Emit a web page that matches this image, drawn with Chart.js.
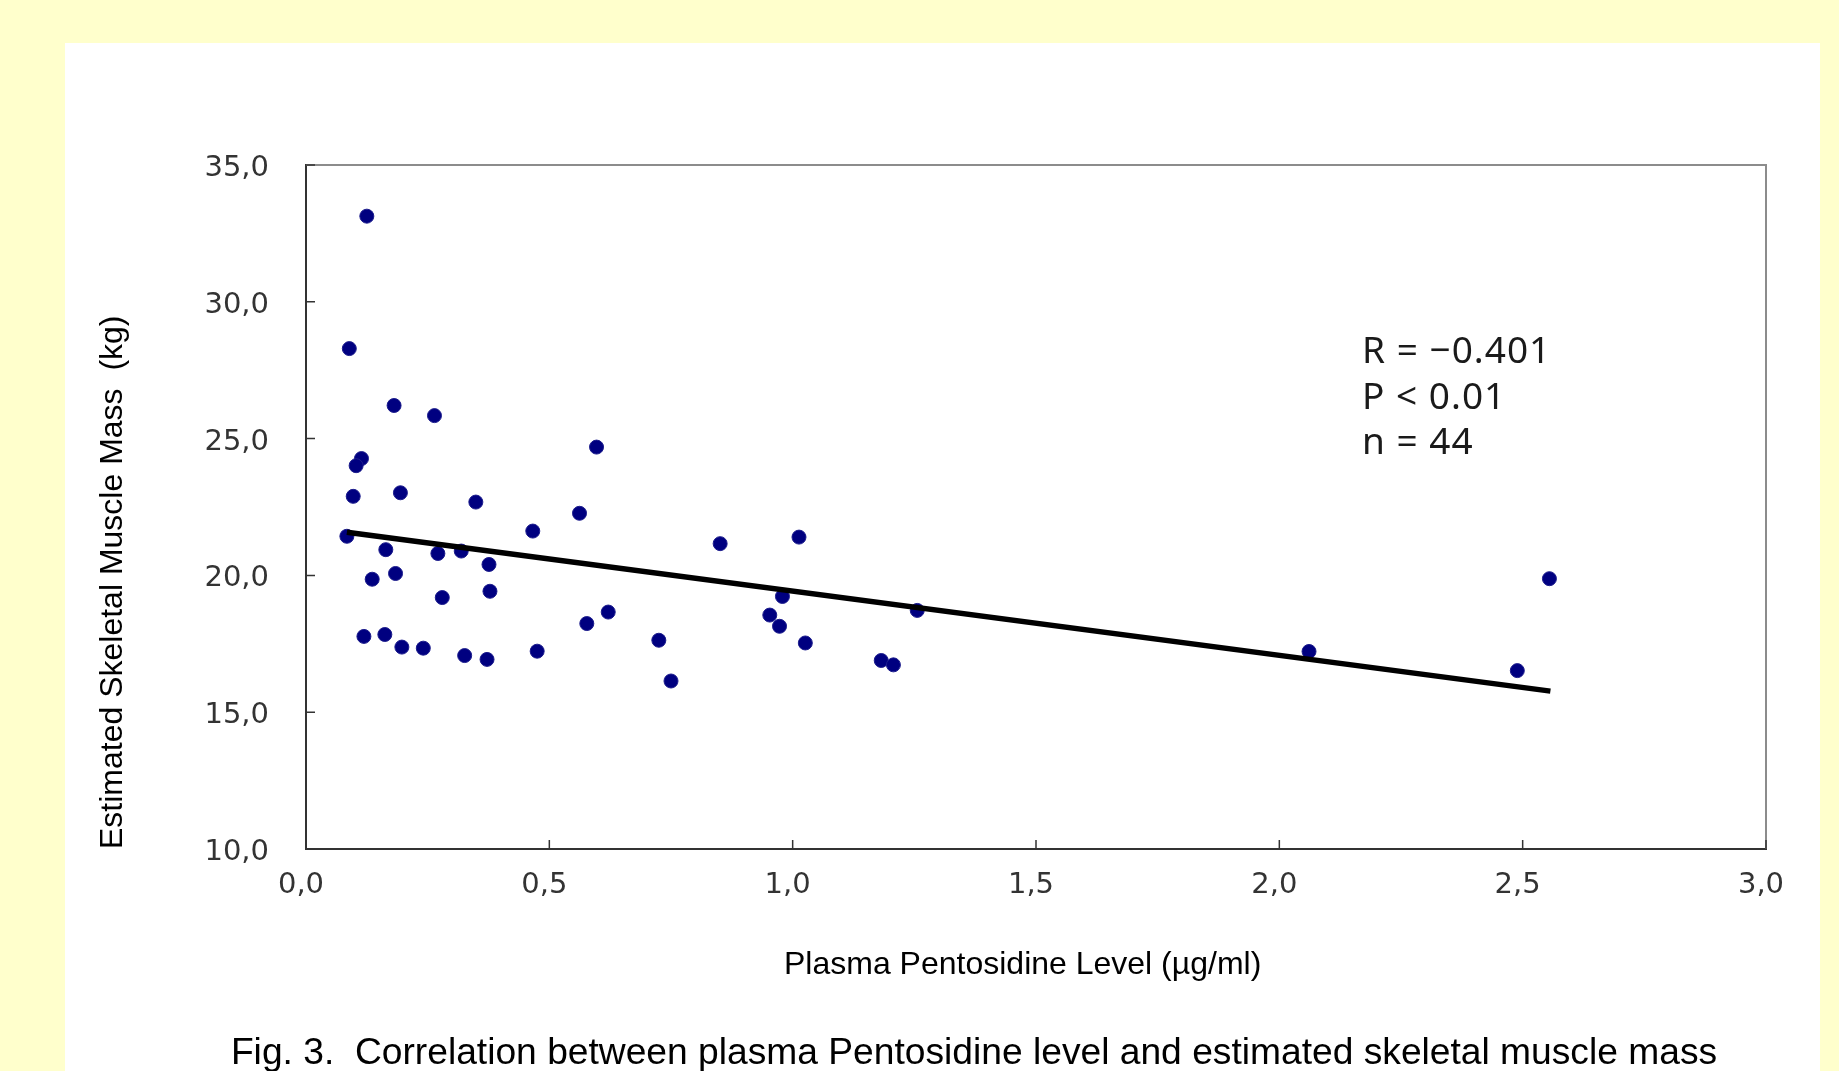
<!DOCTYPE html>
<html>
<head>
<meta charset="utf-8">
<title>Fig. 3 - Pentosidine vs skeletal muscle mass</title>
<script src="https://cdn.jsdelivr.net/npm/chart.js@4.4.1/dist/chart.umd.min.js"></script>
<style>
  html, body { margin: 0; padding: 0; }
  body { background: #ffffcc; width: 1839px; height: 1071px; overflow: hidden; position: relative; }
  #panel { position: absolute; left: 65px; top: 43px; width: 1755px; height: 1028px; background: #ffffff; }
  #chart { position: absolute; left: 0; top: 0; }
  #caption {
    position: absolute; left: 0; width: 1948px; top: 1029px;
    text-align: center; font-family: "Liberation Sans", Arial, sans-serif;
    font-size: 37.2px; line-height: 44px; color: #000; white-space: nowrap;
  }
</style>
</head>
<body>
<div id="panel"></div>
<canvas id="chart" width="1839" height="1071"></canvas>
<div id="caption">Fig. 3.&nbsp; Correlation between plasma Pentosidine level and estimated skeletal muscle mass</div>

<script>
// pentosidine (ug/ml) per subject
const pentosidine = [
  0.125, 0.089, 0.181, 0.264, 0.597, 0.114, 0.103, 0.097, 0.194, 0.349, 0.562,
  0.466, 0.851, 0.084, 0.164, 0.271, 0.319, 0.376, 0.184, 0.136, 0.378, 0.280,
  0.119, 0.162, 0.197, 0.241, 0.326, 0.372, 0.475, 0.577, 0.621, 0.725, 0.750,
  0.979, 0.953, 0.973, 1.013, 1.026, 1.182, 1.207, 1.256, 2.061, 2.489, 2.555
];
// estimated skeletal muscle mass (kg), same order
const muscleMass = [
  33.13, 28.29, 26.21, 25.84, 24.69, 24.27, 24.01, 22.89, 23.02, 22.68, 22.27,
  21.62, 21.16, 21.43, 20.94, 20.80, 20.89, 20.40, 20.07, 19.86, 19.42, 19.19,
  17.77, 17.84, 17.38, 17.34, 17.07, 16.93, 17.23, 18.24, 18.66, 17.63, 16.14,
  19.23, 18.55, 18.14, 21.40, 17.53, 16.89, 16.73, 18.72, 17.22, 16.52, 19.88
];
// regression line end points
const fitX = [0.084, 2.557];
const fitY = [21.58, 15.77];

const xTickLabels = ['0,0', '0,5', '1,0', '1,5', '2,0', '2,5', '3,0'];
const yTickLabels = ['10,0', '15,0', '20,0', '25,0', '30,0', '35,0'];
const statsText = ['R = \u22120.401', 'P < 0.01', 'n = 44'];

const tickFont = { family: '"DejaVu Sans", sans-serif', size: 29 };
const titleFont = { family: '"Liberation Sans", Arial, sans-serif', size: 32 };

// inner tick marks, grey top/right frame and the stats text
const framePlugin = {
  id: 'frame',
  afterDatasetsDraw(chart) {
    const { ctx, chartArea: a, scales: { x, y } } = chart;
    ctx.save();
    ctx.strokeStyle = '#8c8c8c';
    ctx.lineWidth = 2;
    ctx.beginPath();
    ctx.moveTo(a.left, a.top);
    ctx.lineTo(a.right, a.top);
    ctx.lineTo(a.right, a.bottom);
    ctx.stroke();

    ctx.strokeStyle = '#333';
    ctx.lineWidth = 1.5;
    ctx.beginPath();
    x.ticks.forEach((t, i) => {
      const px = x.getPixelForTick(i);
      ctx.moveTo(px, a.bottom);
      ctx.lineTo(px, a.bottom - 9);
    });
    y.ticks.forEach((t, i) => {
      const py = y.getPixelForTick(i);
      ctx.moveTo(a.left, py);
      ctx.lineTo(a.left + 9, py);
    });
    ctx.stroke();

    ctx.fillStyle = '#1a1a1a';
    ctx.font = '37px "Noto Sans", sans-serif';
    ctx.letterSpacing = '1px';
    ctx.textBaseline = 'middle';
    ctx.textAlign = 'left';
    const sx = x.getPixelForValue(2.17);
    const sy = y.getPixelForValue(28.14);
    statsText.forEach((s, i) => ctx.fillText(s, sx, sy + i * 45.5));
    ctx.restore();
  }
};

new Chart(document.getElementById('chart'), {
  type: 'scatter',
  data: {
    datasets: [
      {
        type: 'line',
        label: 'fit',
        data: fitX.map((v, i) => ({ x: v, y: fitY[i] })),
        borderColor: '#000',
        borderWidth: 5.5,
        pointRadius: 0,
        fill: false
      },
      {
        label: 'subjects',
        data: pentosidine.map((v, i) => ({ x: v, y: muscleMass[i] })),
        backgroundColor: '#000080',
        borderColor: '#1c1c8c',
        borderWidth: 1,
        pointRadius: 7
      }
    ]
  },
  options: {
    responsive: false,
    animation: false,
    devicePixelRatio: 1,
    layout: { padding: { left: 94, top: 165, right: 73, bottom: 87 } },
    plugins: {
      legend: { display: false },
      tooltip: { enabled: false }
    },
    scales: {
      x: {
        type: 'linear',
        min: 0, max: 3,
        afterFit: s => { s.height = 135; },
        grid: { display: false, drawTicks: false },
        border: { display: true, color: '#333', width: 2 },
        ticks: {
          stepSize: 0.5,
          padding: 19.5,
          labelOffset: -5,
          color: '#333',
          font: tickFont,
          callback: (v, i) => xTickLabels[i]
        },
        title: {
          display: true,
          text: 'Plasma Pentosidine Level (\u00b5g/ml)   ',
          color: '#000',
          font: titleFont,
          padding: 0
        }
      },
      y: {
        type: 'linear',
        min: 10, max: 35,
        afterFit: s => { s.width = 212; },
        grid: { display: false, drawTicks: false },
        border: { display: true, color: '#333', width: 2 },
        ticks: {
          stepSize: 5,
          padding: 37,
          labelOffset: 3.5,
          color: '#333',
          font: tickFont,
          callback: (v, i) => yTickLabels[i]
        },
        title: {
          display: true,
          text: 'Estimated Skeletal Muscle Mass  (kg)',
          align: 'start',
          color: '#000',
          font: titleFont,
          padding: 0
        }
      }
    }
  },
  plugins: [framePlugin]
});
</script>
</body>
</html>
